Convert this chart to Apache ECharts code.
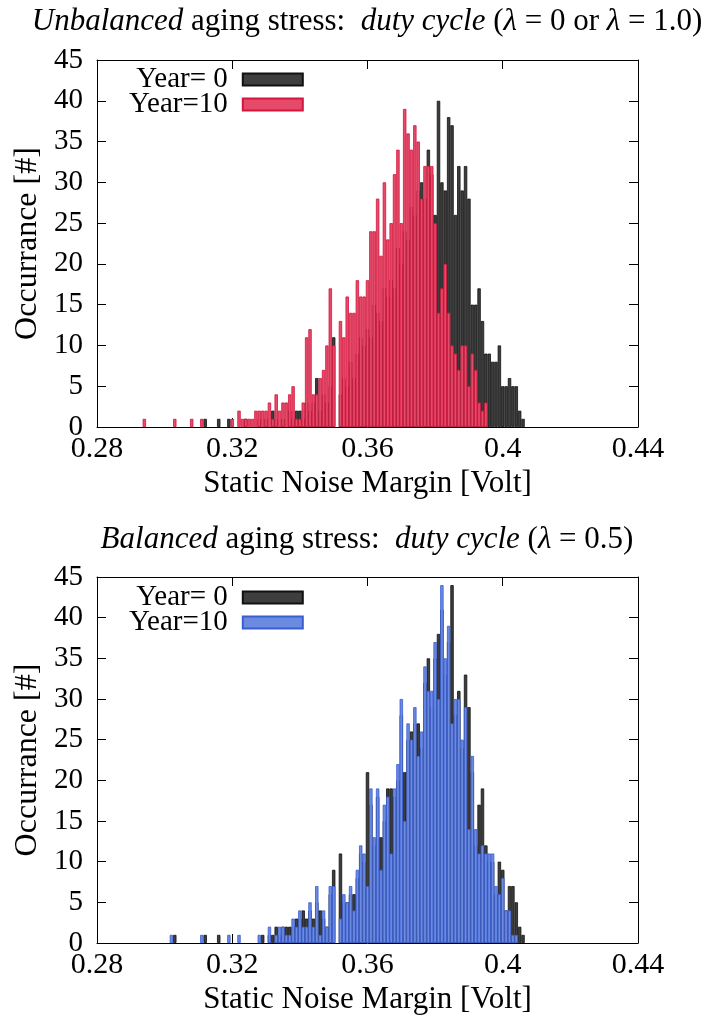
<!DOCTYPE html>
<html>
<head>
<meta charset="utf-8">
<script src="https://cdn.jsdelivr.net/npm/echarts@6/dist/echarts.min.js"></script>
<style>
  html, body { margin: 0; padding: 0; background: #fff; }
  #chart { width: 706px; height: 1020px; }
</style>
</head>
<body>
<div id="chart"></div>
<script>
// Histogram bin centres (SNM in volts), one row per 10 mV
const bins = [
  0.290, 0.291, 0.292, 0.293, 0.294, 0.295, 0.296, 0.297, 0.298, 0.299,
  0.300, 0.301, 0.302, 0.303, 0.304, 0.305, 0.306, 0.307, 0.308, 0.309,
  0.310, 0.311, 0.312, 0.313, 0.314, 0.315, 0.316, 0.317, 0.318, 0.319,
  0.320, 0.321, 0.322, 0.323, 0.324, 0.325, 0.326, 0.327, 0.328, 0.329,
  0.330, 0.331, 0.332, 0.333, 0.334, 0.335, 0.336, 0.337, 0.338, 0.339,
  0.340, 0.341, 0.342, 0.343, 0.344, 0.345, 0.346, 0.347, 0.348, 0.349,
  0.350, 0.351, 0.352, 0.353, 0.354, 0.355, 0.356, 0.357, 0.358, 0.359,
  0.360, 0.361, 0.362, 0.363, 0.364, 0.365, 0.366, 0.367, 0.368, 0.369,
  0.370, 0.371, 0.372, 0.373, 0.374, 0.375, 0.376, 0.377, 0.378, 0.379,
  0.380, 0.381, 0.382, 0.383, 0.384, 0.385, 0.386, 0.387, 0.388, 0.389,
  0.390, 0.391, 0.392, 0.393, 0.394, 0.395, 0.396, 0.397, 0.398, 0.399,
  0.400, 0.401, 0.402, 0.403, 0.404, 0.405, 0.406, 0.407, 0.408, 0.409
];

// Unbalanced stress (lambda = 0 or 1): occurrences per bin
const unbalancedYear0 = [
  0, 0, 0, 0, 0, 0, 0, 0, 0, 0,
  0, 0, 0, 0, 0, 0, 0, 0, 0, 0,
  0, 0, 1, 0, 0, 0, 1, 0, 0, 1,
  0, 0, 0, 0, 1, 0, 0, 0, 1, 0,
  1, 0, 2, 1, 0, 1, 0, 2, 1, 2,
  2, 1, 3, 2, 3, 6, 2, 4, 3, 5,
  11, 0, 4, 6, 5, 8, 6, 9, 11, 10,
  12, 11, 15, 14, 13, 17, 16, 18, 17, 22,
  20, 24, 23, 27, 26, 29, 30, 28, 34, 31,
  26, 40, 30, 29, 38, 37, 26, 32, 29, 32,
  28, 15, 15, 17, 13, 9, 9, 8, 8, 10,
  5, 5, 6, 5, 5, 2, 1, 0, 0, 0
];
const unbalancedYear10 = [
  0, 0, 0, 0, 1, 0, 0, 0, 0, 0,
  0, 0, 0, 1, 0, 0, 0, 0, 1, 0,
  0, 1, 0, 0, 0, 0, 0, 0, 0, 0,
  1, 0, 2, 1, 1, 1, 1, 2, 2, 2,
  2, 3, 1, 4, 2, 3, 3, 4, 5, 1,
  1, 3, 11, 12, 4, 4, 6, 7, 10, 17,
  10, 0, 13, 11, 16, 14, 14, 18, 16, 16,
  18, 24, 24, 28, 21, 30, 23, 25, 31, 34,
  25, 39, 36, 34, 37, 35, 28, 32, 32, 32,
  25, 14, 17, 20, 14, 10, 9, 7, 10, 10,
  5, 9, 7, 3, 2, 3, 0, 0, 0, 0,
  0, 0, 0, 0, 0, 0, 0, 0, 0, 0
];

// Balanced stress (lambda = 0.5): occurrences per bin
const balancedYear0 = [
  0, 0, 0, 0, 0, 0, 0, 0, 0, 0,
  0, 0, 0, 1, 0, 0, 0, 0, 0, 0,
  0, 0, 1, 0, 0, 0, 1, 0, 0, 0,
  0, 0, 0, 0, 0, 0, 0, 0, 0, 1,
  0, 1, 1, 2, 1, 2, 2, 2, 2, 3,
  3, 4, 3, 4, 3, 5, 4, 3, 2, 6,
  9, 0, 11, 5, 5, 6, 6, 8, 11, 10,
  21, 17, 12, 18, 13, 15, 19, 19, 18, 20,
  28, 21, 25, 26, 27, 27, 24, 32, 35, 29,
  35, 38, 41, 33, 37, 44, 28, 31, 24, 33,
  29, 21, 12, 17, 19, 12, 10, 10, 6, 10,
  9, 4, 7, 7, 5, 2, 1, 0, 0, 0
];
const balancedYear10 = [
  0, 0, 0, 0, 0, 0, 0, 0, 0, 0,
  0, 0, 1, 0, 0, 0, 0, 0, 0, 0,
  0, 1, 0, 0, 0, 0, 0, 0, 0, 1,
  0, 0, 1, 0, 0, 0, 0, 0, 1, 0,
  0, 2, 0, 1, 2, 2, 1, 1, 3, 2,
  4, 2, 2, 5, 2, 7, 1, 4, 2, 7,
  7, 0, 3, 6, 5, 7, 4, 9, 12, 11,
  7, 19, 13, 19, 9, 17, 18, 11, 19, 22,
  30, 15, 27, 25, 29, 23, 26, 34, 31, 31,
  37, 30, 44, 35, 39, 27, 30, 30, 25, 29,
  14, 23, 14, 11, 12, 11, 11, 11, 7, 6,
  8, 4, 4, 1, 1, 0, 0, 0, 0, 0
];

const xTicks = [0.28, 0.32, 0.36, 0.40, 0.44];
const yTicks = [0, 5, 10, 15, 20, 25, 30, 35, 40, 45];

const FONT = '"Liberation Serif", "Times New Roman", serif';
const FS = 29;      // legend and y tick labels
const FS_X = 30;    // x tick labels
const FS_NAME = 31; // titles and axis names

function pairs(counts) {
  const out = [];
  bins.forEach((b, i) => { if (counts[i] > 0) out.push([b, counts[i]]); });
  return out;
}

const xMin = xTicks[0], xMax = xTicks[xTicks.length - 1], xStep = xTicks[1] - xTicks[0];
const yMin = yTicks[0], yMax = yTicks[yTicks.length - 1], yStep = yTicks[1] - yTicks[0];

const grids = [
  { left: 97, top: 60, width: 541, height: 367 },
  { left: 97, top: 577, width: 541, height: 366 }
];

const axisLineStyle = { color: '#000', width: 1 };
const tickStyle = { inside: true, length: 9, lineStyle: { color: '#000', width: 1 } };

const xAxes = [], yAxes = [];
grids.forEach((g, gi) => {
  xAxes.push({
    gridIndex: gi, type: 'value', position: 'bottom',
    min: xMin, max: xMax, interval: xStep,
    axisLine: { onZero: false, lineStyle: axisLineStyle },
    axisTick: tickStyle,
    splitLine: { show: false },
    axisLabel: {
      color: '#000', fontFamily: FONT, fontSize: FS_X, margin: 7,
      formatter: v => String(+(+v).toFixed(2))
    },
    name: 'Static Noise Margin [Volt]', nameLocation: 'middle', nameGap: 41,
    nameTextStyle: { color: '#000', fontFamily: FONT, fontSize: FS_NAME }
  });
  xAxes.push({
    gridIndex: gi, type: 'value', position: 'top',
    min: xMin, max: xMax, interval: xStep,
    axisLine: { onZero: false, lineStyle: axisLineStyle },
    axisTick: tickStyle,
    splitLine: { show: false },
    axisLabel: { show: false }
  });
  yAxes.push({
    gridIndex: gi, type: 'value', position: 'left',
    min: yMin, max: yMax, interval: yStep,
    axisLine: { show: true, onZero: false, lineStyle: axisLineStyle },
    axisTick: tickStyle,
    splitLine: { show: false },
    axisLabel: { color: '#000', fontFamily: FONT, fontSize: FS, margin: 14 },
    name: 'Occurrance [#]', nameLocation: 'middle', nameGap: 50, nameRotate: 90,
    nameTextStyle: { color: '#000', fontFamily: FONT, fontSize: 32 }
  });
  yAxes.push({
    gridIndex: gi, type: 'value', position: 'right',
    min: yMin, max: yMax, interval: yStep,
    axisLine: { show: true, onZero: false, lineStyle: axisLineStyle },
    axisTick: tickStyle,
    splitLine: { show: false },
    axisLabel: { show: false }
  });
});

const BAR_W = 541 / 160;
const blackStyle = { color: '#3e3e3e', borderColor: '#111111', borderWidth: 0.8 };
const redStyle = { color: '#e54a68', borderColor: '#d3163f', borderWidth: 0.8 };
const blueStyle = { color: '#6b8be0', borderColor: '#3a5dd2', borderWidth: 0.8 };

function barSeries(name, counts, gi, style) {
  return {
    type: 'bar', name,
    xAxisIndex: gi * 2, yAxisIndex: gi * 2,
    data: pairs(counts),
    barWidth: BAR_W, barGap: '-100%',
    itemStyle: style,
    emphasis: { disabled: true },
    animation: false
  };
}

// second plot's series carry a trailing space so each legend finds its own colours
const series = [
  barSeries('Year= 0', unbalancedYear0, 0, blackStyle),
  barSeries('Year=10', unbalancedYear10, 0, redStyle),
  barSeries('Year= 0 ', balancedYear0, 1, blackStyle),
  barSeries('Year=10 ', balancedYear10, 1, blueStyle)
];

function legendAt(top, names) {
  return {
    data: names, orient: 'vertical', left: 129, top, padding: 0, itemGap: -4,
    itemWidth: 60, itemHeight: 12, align: 'right', icon: 'rect',
    selectedMode: false,
    formatter: n => n.replace(/\s+$/, ''),
    textStyle: {
      color: '#000', fontFamily: FONT, fontSize: FS, lineHeight: 25,
      padding: [0, 10, 0, 0]
    }
  };
}

const titleRich = { i: { fontStyle: 'italic', fontFamily: FONT, fontSize: FS_NAME, color: '#000' } };
function titleAt(top, text) {
  return {
    text, left: 367, top, textAlign: 'center', padding: 0,
    textStyle: { color: '#000', fontFamily: FONT, fontSize: FS_NAME, fontWeight: 'normal', rich: titleRich }
  };
}

const chart = echarts.init(document.getElementById('chart'), null, { renderer: 'canvas' });
chart.setOption({
  backgroundColor: '#fff',
  animation: false,
  title: [
    titleAt(6, '{i|Unbalanced} aging stress:  {i|duty cycle} ({i|λ} = 0 or {i|λ} = 1.0)'),
    titleAt(524, '{i|Balanced} aging stress:  {i|duty cycle} ({i|λ} = 0.5)')
  ],
  legend: [
    legendAt(65, ['Year= 0', 'Year=10']),
    legendAt(583, ['Year= 0 ', 'Year=10 '])
  ],
  grid: grids,
  xAxis: xAxes,
  yAxis: yAxes,
  series
});
</script>
</body>
</html>
